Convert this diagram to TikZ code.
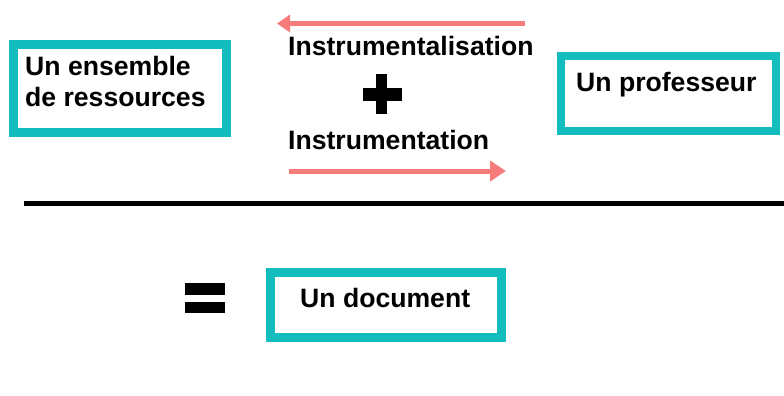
\documentclass[tikz,border=0pt]{standalone}
\usepackage{fontspec}
\setmainfont{Liberation Sans}
\usetikzlibrary{arrows.meta}
\definecolor{boxteal}{HTML}{13BDBD}
\definecolor{arrowred}{HTML}{F67C7C}
\tikzset{
  framebox/.style={draw=boxteal, line width=9pt, fill=white, inner sep=0pt},
  label/.style={font=\fontsize{26.6}{31}\selectfont\bfseries, inner sep=0pt, anchor=base west, text=black},
  flow/.style={draw=arrowred, line width=4.5pt, -{Triangle[length=13pt, width=17pt]}},
  symbolbar/.style={fill=black, draw=none},
}
\begin{document}
\begin{tikzpicture}[x=1pt, y=-1pt]
  \useasboundingbox (0,0) rectangle (784,396);

  % boxes
  \node[framebox, minimum width=213pt, minimum height=88pt] (res) at (120,88.5) {};
  \node[framebox, line width=8pt, minimum width=215pt, minimum height=75pt] (prof) at (668.5,93.5) {};
  \node[framebox, minimum width=231pt, minimum height=65pt] (doc) at (386,305) {};

  % box texts
  \node[label] (resA) at (25,75) {Un ensemble};
  \node[label] (resB) at (25,106) {de ressources};
  \node[label] (profT) at (576,92) {Un professeur};
  \node[label] (docT) at (300,307) {Un document};

  % process labels
  \node[label] (ital) at (288,56) {Instrumentalisation};
  \node[label] (inst) at (288,149) {Instrumentation};

  % arrows
  \coordinate (topR) at (525,23.5);
  \coordinate (topL) at (277,23.5);
  \coordinate (botL) at (289,171);
  \coordinate (botR) at (506,171);
  \draw[flow] (topR) -- (topL);
  \draw[flow, line width=5pt, -{Triangle[length=16pt, width=20pt]}] (botL) -- (botR);

  % plus sign
  \fill[symbolbar] (376,74) rectangle (387,114);
  \fill[symbolbar] (363,88) rectangle (402,101);

  % fraction bar
  \coordinate (barL) at (24,203.5);
  \coordinate (barR) at (784,203.5);
  \draw[line width=5pt] (barL) -- (barR);

  % equals sign
  \fill[symbolbar] (185,283) rectangle (225,295);
  \fill[symbolbar] (185,302) rectangle (225,313);
\end{tikzpicture}
\end{document}
